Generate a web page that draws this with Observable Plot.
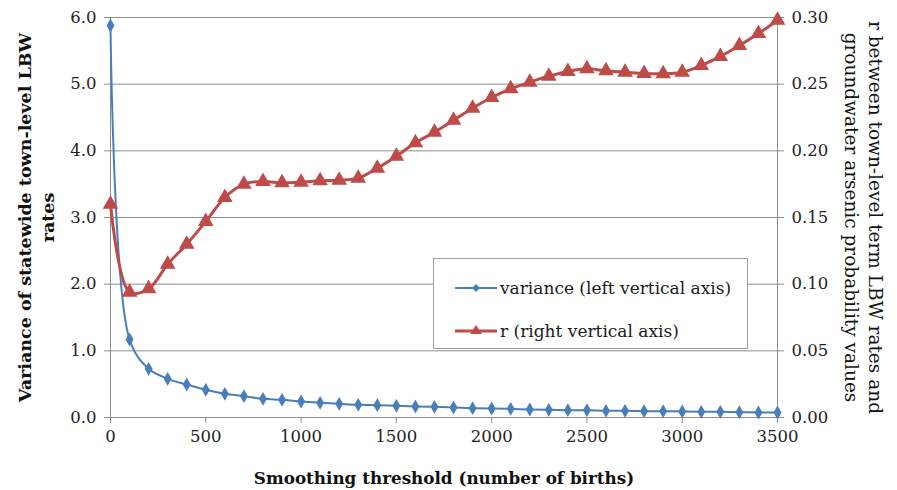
<!DOCTYPE html>
<html><head><meta charset="utf-8">
<script src="https://cdn.jsdelivr.net/npm/d3@7"></script>
<script src="https://cdn.jsdelivr.net/npm/@observablehq/plot@0.6"></script>
<style>
body{margin:0;background:#fff;}
#wrap{position:relative;width:897px;height:490px;}
#legend{position:absolute;left:433px;top:258px;width:315px;height:91px;border:1px solid #a0a0a0;background:#fff;box-sizing:border-box;font-family:"DejaVu Serif",serif;font-size:17px;color:#1a1a1a;}
.row{position:absolute;left:21px;height:22px;display:flex;align-items:center;white-space:nowrap;}
.row svg{margin-right:3px;}
</style></head>
<body><div id="wrap"><div id="legend"></div></div>
<script>
const thresholds = [0,100,200,300,400,500,600,700,800,900,1000,1100,1200,1300,1400,1500,1600,1700,1800,1900,2000,2100,2200,2300,2400,2500,2600,2700,2800,2900,3000,3100,3200,3300,3400,3500];
const variance = [5.88,1.17,0.73,0.58,0.495,0.415,0.355,0.32,0.28,0.265,0.24,0.22,0.205,0.19,0.185,0.175,0.165,0.16,0.15,0.14,0.135,0.13,0.12,0.115,0.11,0.11,0.10,0.10,0.095,0.095,0.09,0.085,0.085,0.08,0.075,0.075];
const rValues = [0.160,0.094,0.0965,0.115,0.130,0.147,0.165,0.175,0.177,0.176,0.1765,0.1775,0.178,0.1795,0.187,0.196,0.206,0.214,0.223,0.232,0.240,0.2465,0.2515,0.256,0.2595,0.2615,0.260,0.259,0.258,0.2578,0.259,0.264,0.2708,0.279,0.288,0.298];
const xTicks = [0,500,1000,1500,2000,2500,3000,3500];
const leftTicks = [0,1,2,3,4,5,6];
const rightTicks = [0,0.05,0.10,0.15,0.20,0.25,0.30];
const seriesNames = ["variance (left vertical axis)","r (right vertical axis)"];
const colors = ["#4A7EBB","#BE4B48"];
const xTitle = "Smoothing threshold (number of births)";
const leftTitle = "Variance of statewide town-level LBW\nrates";
const rightTitle = "r between town-level term LBW rates and\ngroundwater arsenic probability values";

const ratio = 6 / 0.30; // right axis mapped onto left scale
const rows = thresholds.map((t,i)=>({t, v: variance[i], r: rValues[i], rs: rValues[i]*ratio}));

const grid = "#8c8c8c";
const font = "DejaVu Serif";

const chart = Plot.plot({
  width: 897, height: 490,
  marginLeft: 110, marginRight: 120, marginTop: 17, marginBottom: 73,
  style: {fontFamily: font, fontSize: "16.5px", color: "#222", background: "#fff", overflow: "visible"},
  x: {domain: [0,3500]},
  y: {domain: [0,6]},
  marks: [
    Plot.gridY(leftTicks, {stroke: grid, strokeOpacity: 1, strokeWidth: 1}),
    Plot.axisY(leftTicks, {anchor: "left", tickSize: 6, tickPadding: 8, tickFormat: d3.format(".1f"), stroke: grid, label: null, fontSize: 16.5}),
    Plot.axisY(rightTicks.map(d=>d*ratio), {anchor: "right", tickSize: 6, tickPadding: 8, tickFormat: d => (d/ratio).toFixed(2), stroke: grid, label: null, fontSize: 16.5}),
    Plot.axisX(xTicks, {anchor: "bottom", tickSize: 6, tickPadding: 7, tickFormat: d => String(d), stroke: grid, label: null, fontSize: 16.5}),
    Plot.ruleX([0,3500], {stroke: grid, strokeWidth: 1}),
    Plot.ruleY([0], {stroke: grid, strokeWidth: 1}),
    Plot.line(rows, {x: "t", y: "v", stroke: colors[0], strokeWidth: 2, curve: "catmull-rom"}),
    Plot.dot(rows, {x: "t", y: "v", symbol: "diamond", fill: colors[0], r: 4.2}),
    Plot.line(rows, {x: "t", y: "rs", stroke: colors[1], strokeWidth: 3, curve: "catmull-rom"}),
    Plot.dot(rows, {x: "t", y: "rs", symbol: "triangle", fill: colors[1], r: 5.8}),
    Plot.text([leftTitle], {frameAnchor: "left", dx: -75, rotate: -90, text: d=>d, fontWeight: "bold", fontSize: 17.5, lineAnchor: "middle", textAnchor: "middle", lineHeight: 1.3, fill: "#111"}),
    Plot.text([rightTitle], {frameAnchor: "right", dx: 87, rotate: 90, text: d=>d, fontSize: 18.5, lineAnchor: "middle", textAnchor: "middle", lineHeight: 1.3, fill: "#111"}),
    Plot.text([xTitle], {frameAnchor: "bottom", dy: 61, text: d=>d, fontWeight: "bold", fontSize: 16.8, lineAnchor: "middle", fill: "#111"})
  ]
});
const wrap = document.getElementById("wrap");
wrap.insertBefore(chart, wrap.firstChild);

// legend
const legend = document.getElementById("legend");
const tops = [18, 61];
seriesNames.forEach((name,i)=>{
  const row = document.createElement("div");
  row.className = "row";
  row.style.top = tops[i] + "px";
  const s = d3.create("svg").attr("width", 42).attr("height", 20);
  s.append("line").attr("x1",0).attr("x2",42).attr("y1",10).attr("y2",10).attr("stroke",colors[i]).attr("stroke-width", i===0?2:3);
  if (i===0) s.append("path").attr("d","M21,6L25,10L21,14L17,10Z").attr("fill",colors[0]);
  else s.append("path").attr("d","M21,4L27,13L15,13Z").attr("fill",colors[1]);
  row.appendChild(s.node());
  const span = document.createElement("span");
  span.textContent = name;
  row.appendChild(span);
  legend.appendChild(row);
});
</script>
</body></html>
